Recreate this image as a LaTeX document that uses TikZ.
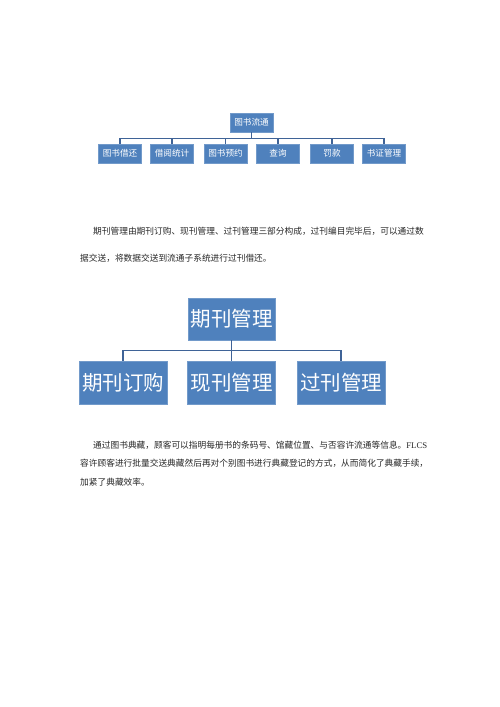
\documentclass[tikz,border=0pt]{standalone}
\usepackage{fontspec}
\newfontfamily\cjk{Noto Sans CJK SC}
\newfontfamily\latinserif{Liberation Serif}
\definecolor{boxblue}{HTML}{4F81BD}
\definecolor{linkblue}{HTML}{3F6397}
\begin{document}
\begin{tikzpicture}[x=1pt,y=-1pt,
  smallbox/.style={rectangle,fill=boxblue,draw=boxblue!80!white,line width=0.4pt,text=white,
    minimum width=43pt,minimum height=19pt,inner sep=0pt,font=\cjk\fontsize{8.6}{10}\selectfont},
  bigbox/.style={rectangle,fill=boxblue,draw=boxblue!80!white,line width=0.4pt,text=white,
    minimum width=88pt,minimum height=43pt,inner sep=0pt,font=\cjk\fontsize{20.5}{24}\selectfont},
  thinlink/.style={draw=linkblue,line width=1.3pt},
  thicklink/.style={draw=linkblue,line width=1.8pt},
  para/.style={anchor=west,inner sep=0pt,text=black!85,font=\cjk\fontsize{8.7}{10}\selectfont}]
\useasboundingbox[fill=white] (0,0) rectangle (500,707);

% top diagram
\node[smallbox] (r1) at (251.5,122.5) {图书流通};
\node[smallbox] (a1) at (120,153.5) {图书借还};
\node[smallbox] (a2) at (172,153.5) {借阅统计};
\node[smallbox] (a3) at (225.5,153.5) {图书预约};
\node[smallbox] (a4) at (278,153.5) {查询};
\node[smallbox] (a5) at (332,153.5) {罚款};
\node[smallbox] (a6) at (384,153.5) {书证管理};
\coordinate (bus1) at (251.5,138.5);
\draw[thinlink] (r1.south) -- (bus1);
\foreach \c in {a1,a2,a3,a4,a5,a6} {\draw[thinlink] (\c.north) |- (bus1);}

% paragraph 1
\node[para] (p1a) at (93,231) {期刊管理由期刊订购、现刊管理、过刊管理三部分构成，过刊编目完毕后，可以通过数};
\node[para] (p1b) at (80,258) {据交送，将数据交送到流通子系统进行过刊借还。};

% second diagram
\node[bigbox,minimum width=87pt,minimum height=42pt] (r2) at (231.5,319) {期刊管理};
\node[bigbox] (b1) at (123,382.5) {期刊订购};
\node[bigbox] (b2) at (231.5,382.5) {现刊管理};
\node[bigbox] (b3) at (341,382.5) {过刊管理};
\coordinate (bus2) at (231.5,350.5);
\draw[thicklink] (r2.south) -- (bus2);
\foreach \c in {b1,b2,b3} {\draw[thicklink] (\c.north) |- (bus2);}

% paragraph 2
\node[para] (p2a) at (93,445) {通过图书典藏，顾客可以指明每册书的条码号、馆藏位置、与否容许流通等信息。{\latinserif FLCS}};
\node[para] (p2b) at (80,463.5) {容许顾客进行批量交送典藏然后再对个别图书进行典藏登记的方式，从而简化了典藏手续，};
\node[para] (p2c) at (80,482) {加紧了典藏效率。};
\end{tikzpicture}
\end{document}
